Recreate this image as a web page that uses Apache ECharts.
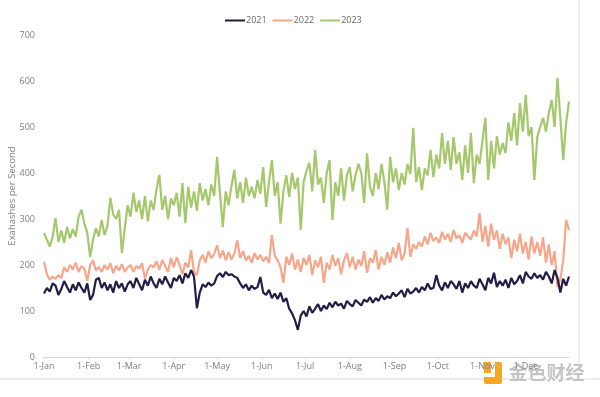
<!DOCTYPE html>
<html>
<head>
<meta charset="utf-8">
<title>Exahashes per Second</title>
<script src="https://cdn.jsdelivr.net/npm/echarts@6/dist/echarts.min.js"></script>
<style>
  html, body { margin: 0; padding: 0; background: #fff; }
  #chart { width: 600px; height: 397px; }
</style>
</head>
<body>
<div id="chart"></div>
<script>
// day of year, every 2nd day (0..364)
var days = [];
for (var d = 0; d <= 364; d += 2) days.push(d);

var monthDays = [0, 31, 59, 90, 120, 151, 181, 212, 243, 273, 304, 334];
var monthLabels = ["1-Jan", "1-Feb", "1-Mar", "1-Apr", "1-May", "1-Jun", "1-Jul", "1-Aug", "1-Sep", "1-Oct", "1-Nov", "1-Dec"];

var h2021 = [
  138, 150, 142, 160, 155, 135, 148, 165, 152, 140,
  158, 145, 162, 150, 140, 160, 124, 135, 168, 172,
  150, 162, 145, 158, 140, 165, 150, 160, 142, 158,
  165, 150, 172, 158, 145, 168, 155, 175, 160, 150,
  170, 158, 175, 162, 150, 172, 165, 178, 160, 182,
  172, 189, 175, 106, 140, 158, 152, 162, 155, 160,
  176, 182, 174, 185, 178, 180, 175, 172, 160, 150,
  158, 145, 155, 148, 152, 174, 140, 135, 146, 128,
  138, 126, 140, 120, 128, 105, 95, 80, 59, 90,
  100, 88, 110, 96, 105, 115, 100, 112, 104, 118,
  108, 120, 112, 116, 105, 122, 115, 110, 124, 118,
  112, 125, 120, 130, 118, 128, 122, 135, 125, 132,
  128, 140, 132, 138, 145, 130, 148, 138, 142, 150,
  140, 152, 145, 160, 148, 150, 178, 155, 145, 162,
  150, 165, 158, 148, 165, 140, 160, 150, 165, 155,
  150, 170, 158, 145, 172, 160, 183, 152, 165, 155,
  168, 150, 172, 158, 165, 178, 160, 185, 175, 170,
  182, 172, 178, 168, 185, 175, 160, 189, 172, 140,
  170, 155, 175
];

var h2022 = [
  207, 180, 168, 175, 170, 178, 172, 195, 185, 200,
  190, 205, 185, 198, 192, 165, 200, 210, 188, 196,
  185, 200, 190, 204, 182, 198, 188, 202, 185, 195,
  200, 185, 198, 192, 204, 170, 190, 200, 195, 208,
  190, 211, 198, 185, 215, 195, 217, 200, 180, 205,
  195, 232, 185, 178, 210, 222, 205, 230, 215, 224,
  243, 215, 232, 210, 228, 212, 225, 254, 215, 230,
  210, 220, 205, 226, 212, 222, 208, 218, 204, 265,
  220, 210, 195, 161, 218, 200, 225, 190, 212, 185,
  215, 200, 222, 178, 210, 195, 218, 161, 205, 190,
  222, 198, 215, 180, 210, 226, 195, 218, 190, 212,
  198, 230, 183, 215, 205, 232, 190, 218, 200, 228,
  205, 238, 215, 248, 210, 225, 280, 218, 245, 235,
  250, 240, 262, 245, 270, 252, 260, 248, 272, 255,
  268, 250, 276, 258, 265, 248, 270, 262, 255, 275,
  262, 313, 250, 285, 240, 290, 255, 275, 235, 268,
  245, 260, 215, 255, 230, 268, 225, 250, 212, 262,
  225, 250, 220, 260, 205, 245, 200, 230, 152, 170,
  210, 298, 276
];

var h2023 = [
  270, 255, 240, 262, 302, 250, 275, 248, 283, 258,
  278, 262, 305, 320, 290, 270, 217, 255, 280, 262,
  298, 265, 285, 346, 310, 300, 320, 226, 280, 330,
  305, 357, 315, 340, 300, 350, 295, 340, 320, 365,
  396, 320, 350, 300, 345, 330, 357, 305, 378, 291,
  370, 325, 360, 318, 378, 340, 365, 330, 375, 350,
  435, 355, 283, 360, 330, 372, 407, 345, 380, 335,
  390, 350, 370, 345, 385, 355, 413, 326, 380, 428,
  350, 380, 290, 360, 395, 348, 400, 365, 390, 276,
  380, 405, 422, 360, 450, 375, 390, 335, 400, 428,
  298, 380, 350, 410, 340, 395, 413, 360, 395, 420,
  400, 335, 443, 370, 350, 400, 365, 420, 380, 320,
  435, 380, 410, 363, 400, 375, 420, 398, 498, 380,
  413, 363, 410, 395, 450, 391, 440, 410, 487, 420,
  470, 407, 478, 420, 445, 385, 460, 400, 487, 378,
  440, 420, 470, 520, 385, 470, 410, 480, 440, 465,
  443, 510, 470, 530, 460, 552, 490, 570, 480, 500,
  385, 478, 500, 520, 490, 530, 559, 500, 607, 520,
  428, 509, 555
];

var seriesNames = ["2021", "2022", "2023"];
var seriesColors = ["#231d45", "#f6a78b", "#a4c86b"];

function pairs(vals) {
  return days.map(function (d, i) { return [d, vals[i]]; });
}

var chart = echarts.init(document.getElementById("chart"));
var labelFont = "'Open Sans', sans-serif";

chart.setOption({
  animation: false,
  color: seriesColors,
  legend: {
    top: 11,
    left: 220,
    itemWidth: 20,
    itemHeight: 2,
    itemGap: 6,
    icon: "rect",
    textStyle: { color: "#666", fontSize: 9, fontFamily: labelFont, padding: [0, 0, 0, -4] },
    data: seriesNames
  },
  grid: { left: 44, right: 31, top: 35, bottom: 40, outerBoundsMode: "none" },
  xAxis: {
    type: "value",
    min: 0,
    max: 364,
    splitLine: { show: false },
    axisLine: { show: true, lineStyle: { color: "#d6d6d6", width: 1 } },
    axisTick: { show: true, customValues: monthDays, length: 2, lineStyle: { color: "#d6d6d6" } },
    axisLabel: {
      customValues: monthDays,
      color: "#808080",
      fontSize: 9,
      fontFamily: labelFont,
      margin: 5,
      formatter: function (v) {
        var i = monthDays.indexOf(v);
        return i >= 0 ? monthLabels[i] : "";
      }
    }
  },
  yAxis: {
    type: "value",
    min: 0,
    max: 700,
    interval: 100,
    name: "Exahashes per Second",
    nameLocation: "middle",
    nameGap: 27,
    nameMoveOverlap: false,
    nameTextStyle: { color: "#808080", fontSize: 9.5, fontFamily: labelFont },
    splitLine: { show: false },
    axisLine: { show: false },
    axisTick: { show: false },
    axisLabel: { color: "#808080", fontSize: 9, fontFamily: labelFont, margin: 9 }
  },
  series: seriesNames.map(function (name, i) {
    var vals = [h2021, h2022, h2023][i];
    return {
      name: name,
      type: "line",
      data: pairs(vals),
      showSymbol: false,
      lineStyle: { width: 2.2 },
      z: 3 - i
    };
  }),
  graphic: [
    { type: "line", shape: { x1: 0, y1: 379, x2: 600, y2: 379 }, style: { stroke: "#dcdcdc", lineWidth: 1 } },
    { type: "line", shape: { x1: 579, y1: 0, x2: 579, y2: 379 }, style: { stroke: "#dcdcdc", lineWidth: 1 } },
    // watermark
    { type: "rect", shape: { x: 484, y: 362, width: 18, height: 22, r: 2 }, style: { fill: "#f5a623" } },
    { type: "rect", shape: { x: 484, y: 362, width: 11, height: 15 }, style: { fill: "#fff" } },
    { type: "rect", shape: { x: 484, y: 362, width: 7, height: 11 }, style: { fill: "#f5a623" } },
    {
      type: "text", left: 508, top: 363,
      style: { text: "金色财经", fill: "#c4c4c4", font: "bold 19px 'Noto Sans CJK SC'", stroke: "#fff", lineWidth: 1 }
    }
  ]
});
</script>
</body>
</html>
